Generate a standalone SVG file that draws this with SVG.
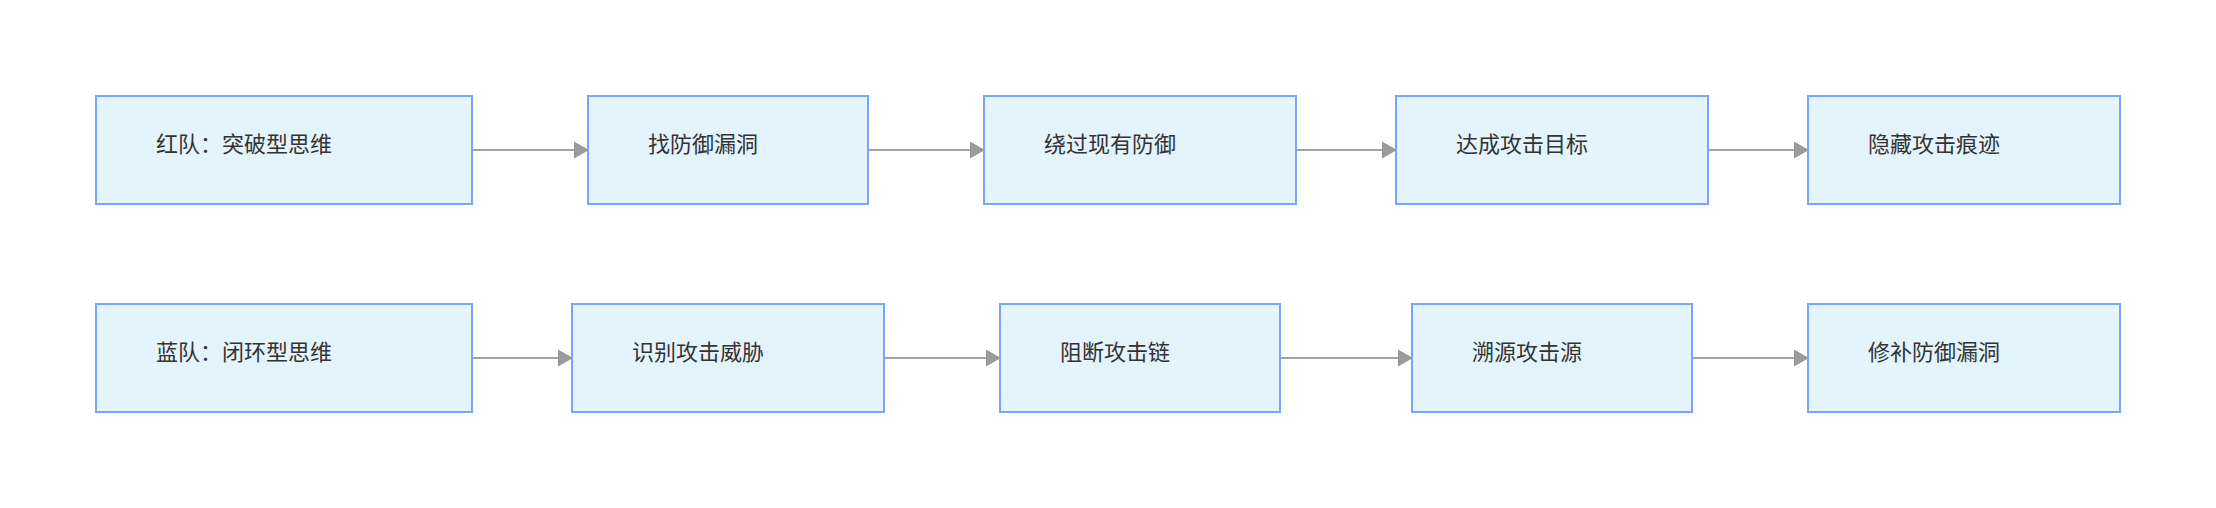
<svg xmlns="http://www.w3.org/2000/svg" width="2216" height="508" viewBox="0 0 2216 508">
<style>
.n rect{fill:#e3f4fd;stroke:#78a6f7;stroke-width:2}
.n text{font-family:"Noto Sans CJK SC","Noto Sans",sans-serif;font-size:22px;fill:#333}
.c line{stroke:#a3a3a3;stroke-width:2}
</style>
<defs><marker id="a" markerWidth="14" markerHeight="16" refX="14" refY="8" orient="auto" markerUnits="userSpaceOnUse"><path d="M0,0L14,8L0,16Z" fill="#9c9c9c" stroke="#888" stroke-width="0.8"/></marker></defs>
<rect width="2216" height="508" fill="#fff"/>
<g class="c" marker-end="url(#a)">
<line x1="472" y1="150" x2="588" y2="150" marker-end="url(#a)"/>
<line x1="868" y1="150" x2="984" y2="150" marker-end="url(#a)"/>
<line x1="1296" y1="150" x2="1396" y2="150" marker-end="url(#a)"/>
<line x1="1708" y1="150" x2="1808" y2="150" marker-end="url(#a)"/>
<line x1="472" y1="358" x2="572" y2="358" marker-end="url(#a)"/>
<line x1="884" y1="358" x2="1000" y2="358" marker-end="url(#a)"/>
<line x1="1280" y1="358" x2="1412" y2="358" marker-end="url(#a)"/>
<line x1="1692" y1="358" x2="1808" y2="358" marker-end="url(#a)"/>
</g>
<g id="r1" class="n"><rect x="96" y="96" width="376" height="108"/><text x="156" y="152">红队：突破型思维</text></g>
<g id="r2" class="n"><rect x="588" y="96" width="280" height="108"/><text x="648" y="152">找防御漏洞</text></g>
<g id="r3" class="n"><rect x="984" y="96" width="312" height="108"/><text x="1044" y="152">绕过现有防御</text></g>
<g id="r4" class="n"><rect x="1396" y="96" width="312" height="108"/><text x="1456" y="152">达成攻击目标</text></g>
<g id="r5" class="n"><rect x="1808" y="96" width="312" height="108"/><text x="1868" y="152">隐藏攻击痕迹</text></g>
<g id="b1" class="n"><rect x="96" y="304" width="376" height="108"/><text x="156" y="360">蓝队：闭环型思维</text></g>
<g id="b2" class="n"><rect x="572" y="304" width="312" height="108"/><text x="632" y="360">识别攻击威胁</text></g>
<g id="b3" class="n"><rect x="1000" y="304" width="280" height="108"/><text x="1060" y="360">阻断攻击链</text></g>
<g id="b4" class="n"><rect x="1412" y="304" width="280" height="108"/><text x="1472" y="360">溯源攻击源</text></g>
<g id="b5" class="n"><rect x="1808" y="304" width="312" height="108"/><text x="1868" y="360">修补防御漏洞</text></g>
</svg>
